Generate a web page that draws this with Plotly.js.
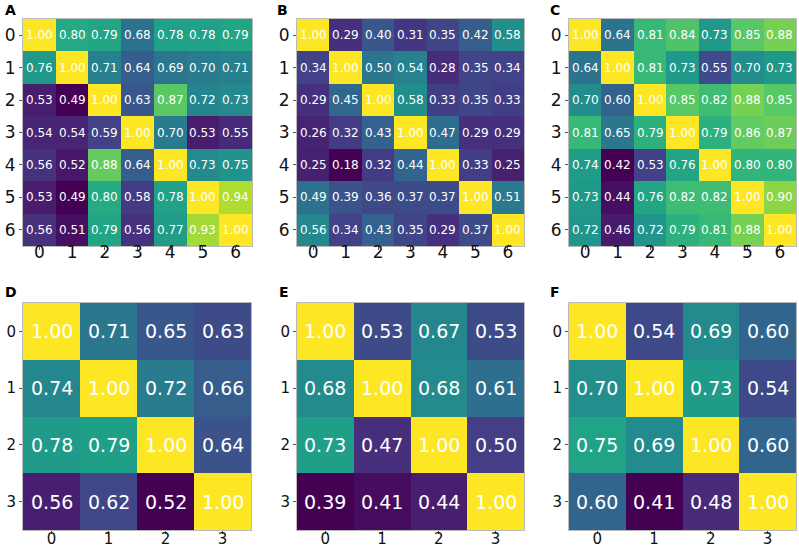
<!DOCTYPE html>
<html><head><meta charset="utf-8">
<script src="https://cdn.plot.ly/plotly-3.0.1.min.js"></script>
<style>body{margin:0;padding:0;background:#fff}#c{width:799px;height:548px}</style>
</head><body><div id="c"></div>
<script>
const labels7 = ['0','1','2','3','4','5','6'];
const labels4 = ['0','1','2','3'];
const panelNames = ['A','B','C','D','E','F'];
const matA = [
 [1.00,0.80,0.79,0.68,0.78,0.78,0.79],
 [0.76,1.00,0.71,0.64,0.69,0.70,0.71],
 [0.53,0.49,1.00,0.63,0.87,0.72,0.73],
 [0.54,0.54,0.59,1.00,0.70,0.53,0.55],
 [0.56,0.52,0.88,0.64,1.00,0.73,0.75],
 [0.53,0.49,0.80,0.58,0.78,1.00,0.94],
 [0.56,0.51,0.79,0.56,0.77,0.93,1.00]];
const matB = [
 [1.00,0.29,0.40,0.31,0.35,0.42,0.58],
 [0.34,1.00,0.50,0.54,0.28,0.35,0.34],
 [0.29,0.45,1.00,0.58,0.33,0.35,0.33],
 [0.26,0.32,0.43,1.00,0.47,0.29,0.29],
 [0.25,0.18,0.32,0.44,1.00,0.33,0.25],
 [0.49,0.39,0.36,0.37,0.37,1.00,0.51],
 [0.56,0.34,0.43,0.35,0.29,0.37,1.00]];
const matC = [
 [1.00,0.64,0.81,0.84,0.73,0.85,0.88],
 [0.64,1.00,0.81,0.73,0.55,0.70,0.73],
 [0.70,0.60,1.00,0.85,0.82,0.88,0.85],
 [0.81,0.65,0.79,1.00,0.79,0.86,0.87],
 [0.74,0.42,0.53,0.76,1.00,0.80,0.80],
 [0.73,0.44,0.76,0.82,0.82,1.00,0.90],
 [0.72,0.46,0.72,0.79,0.81,0.88,1.00]];
const matD = [
 [1.00,0.71,0.65,0.63],
 [0.74,1.00,0.72,0.66],
 [0.78,0.79,1.00,0.64],
 [0.56,0.62,0.52,1.00]];
const matE = [
 [1.00,0.53,0.67,0.53],
 [0.68,1.00,0.68,0.61],
 [0.73,0.47,1.00,0.50],
 [0.39,0.41,0.44,1.00]];
const matF = [
 [1.00,0.54,0.69,0.60],
 [0.70,1.00,0.73,0.54],
 [0.75,0.69,1.00,0.60],
 [0.60,0.41,0.48,1.00]];

const mats = [matA,matB,matC,matD,matE,matF];
const W=799,H=548;
// pixel boxes [left,right,top,bottom]
const boxes = [[23,252,19,246],[297,524,19,246],[569,796,19,246],
               [23,251,303,530],[297,524,303,530],[569,796,303,530]];
const labelPos = [[3,10],[275,10],[548,10],[3,292],[277,292],[548,292]];

const data=[], annotations=[], layout={width:W,height:H,margin:{l:0,r:0,t:0,b:0},
  paper_bgcolor:'#fff',plot_bgcolor:'#fff',showlegend:false,
  font:{family:'DejaVu Sans, sans-serif',color:'#000'}};

mats.forEach((m,i)=>{
  const n=m.length, labs = n===7?labels7:labels4;
  const xa = i===0?'x':'x'+(i+1), ya = i===0?'y':'y'+(i+1);
  const xk = i===0?'xaxis':'xaxis'+(i+1), yk = i===0?'yaxis':'yaxis'+(i+1);
  const flat=[].concat(...m);
  const zmin=Math.min(...flat), zmax=Math.max(...flat);
  data.push({type:'heatmap',z:m,x:labs.map(Number),y:labs.map(Number),xaxis:xa,yaxis:ya,
    colorscale:'Viridis',zmin:zmin,zmax:zmax,showscale:false,hoverinfo:'skip'});
  const b=boxes[i];
  const big = n===4;
  const axCommon={showgrid:false,zeroline:false,showline:true,linecolor:'#bbb',linewidth:1,
    mirror:true,ticks:'outside',ticklen:3,tickcolor:'#555',tickwidth:1,
    tickmode:'array',tickvals:labs.map(Number),ticktext:labs,
    tickfont:{size:big?15:17,color:'#111'}};
  layout[xk]=Object.assign({},axCommon,{domain:[b[0]/W,b[1]/W],anchor:ya,range:[-0.5,n-0.5],
    ticklabelstandoff:big?-8:-12});
  layout[yk]=Object.assign({},axCommon,{domain:[1-b[3]/H,1-b[2]/H],anchor:xa,range:[n-0.5,-0.5],
    ticklabelstandoff:0});
  m.forEach((row,r)=>row.forEach((v,c)=>{
    annotations.push({x:c,y:r,xref:xa,yref:ya,text:v.toFixed(2),showarrow:false,
      font:{size:big?19:12,color:'#fff'}});
  }));
  annotations.push({x:labelPos[i][0]/W,y:1-labelPos[i][1]/H,xref:'paper',yref:'paper',
    text:'<b>'+panelNames[i]+'</b>',showarrow:false,xanchor:'left',yanchor:'middle',
    font:{size:14,color:'#000',family:'DejaVu Sans, sans-serif'}});
});
layout.annotations=annotations;
Plotly.newPlot('c',data,layout,{displayModeBar:false,staticPlot:true});
</script></body></html>
